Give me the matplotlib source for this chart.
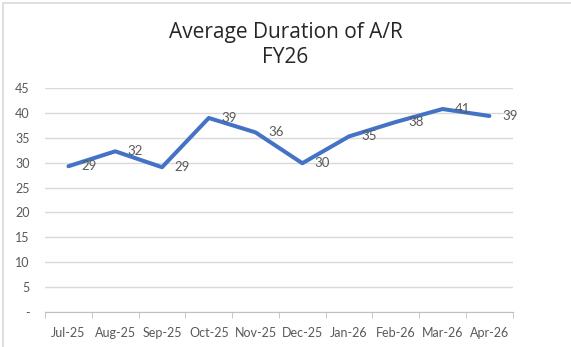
import numpy as np
import matplotlib.pyplot as plt
from matplotlib.patches import Rectangle
from matplotlib.ticker import FixedLocator, FuncFormatter

months = ['Jul-25', 'Aug-25', 'Sep-25', 'Oct-25', 'Nov-25',
          'Dec-25', 'Jan-26', 'Feb-26', 'Mar-26', 'Apr-26']
duration = [29.3, 32.3, 29.1, 39.0, 36.1, 29.9, 35.3, 38.2, 40.8, 39.4]
yticks = [0, 5, 10, 15, 20, 25, 30, 35, 40, 45]

grey = '#595959'
blue = '#4472C4'
plt.rcParams['font.family'] = ['Lato', 'DejaVu Sans']

fig = plt.figure(figsize=(5.71, 3.47), dpi=100)
fig.patches.append(Rectangle((0.005, -0.01), 1.2, 1.0, transform=fig.transFigure,
                             fill=False, edgecolor='#D9D9D9', lw=1.2))

ax = fig.add_axes([0.079, 0.101, 0.819, 0.645])
x = np.arange(len(months))
ax.plot(x, duration, color=blue, lw=2.9, solid_capstyle='round', zorder=3)

for xi, v in zip(x, duration):
    ax.annotate(f'{round(v):d}', (xi, v), xytext=(9, 0), textcoords='offset points',
                ha='left', va='center', fontsize=9.5, color=grey)

ax.set_xlim(-0.5, len(months) - 0.5)
ax.set_ylim(0, 45)
ax.set_yticks(yticks)
ax.yaxis.set_major_formatter(FuncFormatter(lambda v, p: '-' if v == 0 else f'{v:.0f}'))
ax.grid(axis='y', color='#D9D9D9', lw=1)
ax.set_axisbelow(True)

ax.set_xticks(x)
ax.set_xticklabels(months)
ax.xaxis.set_minor_locator(FixedLocator(np.arange(-0.5, len(months), 1.0)))
ax.tick_params(axis='x', which='major', length=0, pad=11, labelsize=9, labelcolor=grey)
ax.tick_params(axis='x', which='minor', length=4, color='#BFBFBF', direction='out')
ax.tick_params(axis='y', length=0, pad=11, labelsize=9, labelcolor=grey)

for s in ['top', 'right', 'left']:
    ax.spines[s].set_visible(False)
ax.spines['bottom'].set_color('#BFBFBF')

title_font = ['Open Sans', 'DejaVu Sans']
fig.text(0.5, 0.905, 'Average Duration of A/R', ha='center', va='center',
         fontsize=15, color='#262626', family=title_font)
fig.text(0.5, 0.833, 'FY26', ha='center', va='center',
         fontsize=15, color='#262626', family=title_font)

fig.savefig('out.png', dpi=100)
